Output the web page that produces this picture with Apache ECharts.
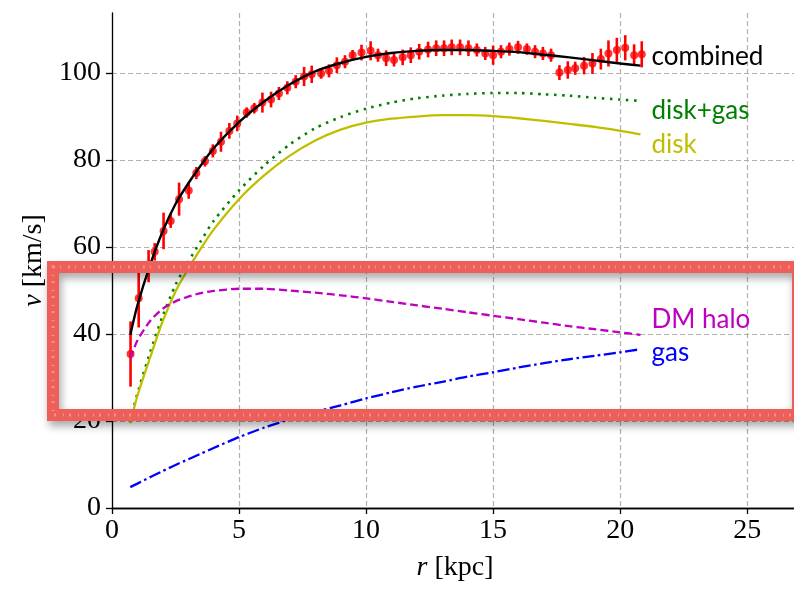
<!DOCTYPE html>
<html lang="en">
  <head>
    <meta charset="UTF-8" />
    <title>rotation curve</title>
    <script src="https://cdn.jsdelivr.net/npm/echarts@6/dist/echarts.min.js"></script>
    <style>
      html, body { margin: 0; padding: 0; background: #fff; }
      #rotationChart { width: 794px; height: 589px; }
    </style>
  </head>
  <body>
    <div id="rotationChart"></div>
    <script>
      // measured points (r in kpc, v in km/s, error in km/s)
      var rData = [0.73, 1.05, 1.44, 1.68, 2.03, 2.31, 2.64, 3.02, 3.32, 3.66, 3.97, 4.29, 4.62, 4.93, 5.30, 5.60,
        5.92, 6.26, 6.57, 6.90, 7.23, 7.56, 7.86, 8.23, 8.54, 8.85, 9.17, 9.47, 9.82, 10.18, 10.47, 10.79,
        11.10, 11.44, 11.76, 12.09, 12.44, 12.76, 13.07, 13.37, 13.70, 14.03, 14.36, 14.69, 15.00, 15.31,
        15.64, 15.98, 16.33, 16.65, 16.96, 17.28, 17.61, 17.94, 18.23, 18.58, 18.91, 19.24, 19.54, 19.87,
        20.20, 20.55, 20.85];
      var vData = [35.4, 48.2, 55.6, 58.9, 63.7, 66.0, 71.0, 73.0, 77.0, 79.7, 82.1, 84.2, 86.7, 88.4, 90.9, 91.9,
        93.2, 93.9, 95.3, 96.6, 98.0, 99.2, 99.7, 99.9, 100.5, 101.8, 102.6, 104.1, 104.7, 105.1, 104.1, 103.4,
        103.0, 103.6, 104.1, 104.9, 105.4, 105.7, 105.7, 105.9, 105.9, 105.7, 105.3, 104.5, 104.1, 104.9,
        105.5, 105.9, 105.5, 104.9, 104.5, 104.1, 100.1, 100.7, 101.1, 101.7, 102.2, 103.2, 104.5, 105.3,
        105.8, 104.1, 104.3];
      var vErr = [7.5, 6.7, 3.7, 2.0, 4.2, 1.6, 3.8, 1.9, 1.4, 1.2, 1.5, 2.3, 1.8, 1.8, 1.2, 1.2,
        2.3, 1.8, 1.5, 1.5, 1.5, 2.2, 2.0, 1.2, 1.5, 1.8, 1.5, 1.2, 1.8, 2.2, 1.5, 1.8,
        1.5, 1.8, 1.8, 1.8, 1.8, 1.8, 1.8, 1.8, 1.8, 1.8, 1.5, 1.5, 2.2, 1.5,
        1.5, 1.5, 1.3, 1.5, 1.5, 1.5, 1.7, 2.0, 1.5, 2.0, 2.4, 2.4, 3.0, 2.8,
        2.9, 2.5, 3.0];

      // model curves
      var rModel = [0.72, 1, 1.5, 2, 2.5, 3, 3.5, 4, 5, 6, 7, 8, 9, 10, 11, 12, 13, 14, 15, 16, 17, 18, 19, 20, 20.8];
      var vCombined = [39.8, 46.6, 55.9, 63.7, 69.9, 74.6, 78.8, 82.7, 88.7, 93.5, 97.4, 100.4, 102.3, 103.7, 104.6,
        105.1, 105.3, 105.3, 105.1, 104.8, 104.2, 103.6, 102.9, 102.2, 101.7];
      var vDiskGas = [20.1, 26.3, 35.8, 44.2, 51.3, 56.6, 61.4, 66.0, 73.0, 78.8, 83.6, 87.3, 89.9, 91.8, 93.2,
        94.2, 94.8, 95.2, 95.4, 95.4, 95.1, 94.8, 94.3, 93.9, 93.6];
      var vDisk = [19.5, 25.8, 34.6, 43.0, 49.8, 55.0, 59.7, 64.0, 71.0, 76.5, 81.0, 84.5, 87.0, 88.6, 89.5,
        90.0, 90.3, 90.3, 90.1, 89.6, 89.0, 88.3, 87.6, 86.7, 85.9];
      var vHalo = [34.4, 38.5, 43.0, 45.8, 47.5, 48.6, 49.4, 49.9, 50.4, 50.4, 50.0, 49.5, 48.9, 48.2, 47.4,
        46.6, 45.8, 45.0, 44.2, 43.4, 42.6, 41.8, 41.1, 40.4, 39.8];
      var vGas = [4.8, 5.6, 7.1, 8.5, 9.9, 11.2, 12.5, 13.8, 16.3, 18.5, 20.4, 22.1, 23.6, 25.2, 26.6,
        27.9, 29.0, 30.2, 31.2, 32.3, 33.3, 34.2, 35.0, 35.8, 36.5];

      var xTicks = [0, 5, 10, 15, 20, 25];
      var yTicks = [0, 20, 40, 60, 80, 100];

      rotationChart();

      function pairs(xs, ys) {
        var out = [];
        for (var i = 0; i < xs.length; i++) out.push([xs[i], ys[i]]);
        return out;
      }

      function curve(name, values, color, dash, width, dy) {
        return {
          name: name,
          type: 'line',
          data: pairs(rModel, values),
          showSymbol: false,
          symbol: 'none',
          smooth: 0.25,
          z: 5,
          lineStyle: { color: color, width: width, type: dash, cap: 'butt' },
          endLabel: {
            show: true,
            formatter: name,
            color: color,
            fontFamily: 'Lato',
            fontSize: 26,
            distance: 11,
            offset: [0, dy]
          }
        };
      }

      function rotationChart() {
        var el = document.getElementById('rotationChart');
        var chart = echarts.init(el, null, { renderer: 'canvas' });

        var serif = 'Liberation Serif';
        var gridLine = { show: true, lineStyle: { color: '#b0b0b0', width: 1.2, type: [5, 3] } };
        var errData = [];
        for (var i = 0; i < rData.length; i++) errData.push([rData[i], vData[i], vErr[i]]);

        var option = {
          animation: false,
          backgroundColor: '#fff',
          grid: { left: 112, top: 13, right: -4, bottom: 81, outerBoundsMode: 'none', containLabel: false },
          xAxis: [
            {
              type: 'value',
              min: 0,
              max: 27,
              interval: 5,
              name: '{i|r} [kpc]',
              nameLocation: 'middle',
              nameGap: 46,
              nameTextStyle: {
                fontFamily: serif, fontSize: 28, color: '#000',
                rich: { i: { fontFamily: serif, fontSize: 28, fontStyle: 'italic', color: '#000' } }
              },
              axisLine: { show: true, onZero: false, lineStyle: { color: '#000', width: 1.3 } },
              axisTick: { show: true, length: 6, lineStyle: { color: '#000', width: 1.3 }, customValues: xTicks },
              axisLabel: { fontFamily: serif, fontSize: 28, color: '#000', margin: 9, customValues: xTicks },
              splitLine: gridLine
            },
            {
              type: 'value',
              position: 'top',
              min: 0,
              max: 27,
              axisLine: { show: true, lineStyle: { color: '#000', width: 1.3 } },
              axisTick: { show: false },
              axisLabel: { show: false },
              splitLine: { show: false }
            }
          ],
          yAxis: {
            type: 'value',
            min: 0,
            max: 113.8,
            interval: 20,
            name: '{i|v} [km/s]',
            nameLocation: 'middle',
            nameRotate: 90,
            nameGap: 60,
            nameTextStyle: {
              fontFamily: serif, fontSize: 28, color: '#000',
              rich: { i: { fontFamily: serif, fontSize: 28, fontStyle: 'italic', color: '#000' } }
            },
            axisLine: { show: true, onZero: false, lineStyle: { color: '#000', width: 1.3 } },
            axisTick: { show: true, length: 6, lineStyle: { color: '#000', width: 1.3 }, customValues: yTicks },
            axisLabel: { fontFamily: serif, fontSize: 28, color: '#000', margin: 11, customValues: yTicks },
            splitLine: gridLine
          },
          series: [
            {
              name: 'errors',
              type: 'custom',
              z: 3,
              data: errData,
              renderItem: function (params, api) {
                var r = api.value(0), v = api.value(1), e = api.value(2);
                var lo = api.coord([r, v - e]);
                var hi = api.coord([r, v + e]);
                return {
                  type: 'line',
                  shape: { x1: lo[0], y1: lo[1], x2: hi[0], y2: hi[1] },
                  style: { stroke: '#ff0000', lineWidth: 2.6 }
                };
              }
            },
            {
              name: 'data',
              type: 'scatter',
              z: 4,
              symbol: 'circle',
              symbolSize: 8,
              itemStyle: { color: '#ff0000' },
              data: pairs(rData, vData)
            },
            curve('combined', vCombined, '#000000', 'solid', 2.4, -9),
            curve('disk+gas', vDiskGas, '#008000', [2.5, 5.5], 2.6, 10),
            curve('disk', vDisk, '#bfbf00', 'solid', 2.3, 10),
            curve('DM halo', vHalo, '#bf00bf', [8, 4], 2.3, -15),
            curve('gas', vGas, '#0000ff', [12, 3.5, 2.5, 3.5], 2.3, 3)
          ],
          graphic: [
            {
              type: 'rect',
              z: 100,
              shape: { x: 53, y: 267, width: 745, height: 148 },
              style: {
                fill: 'none',
                stroke: '#ee5f5a',
                lineWidth: 12,
                shadowBlur: 8,
                shadowOffsetX: 2,
                shadowOffsetY: 5,
                shadowColor: 'rgba(0,0,0,0.35)'
              }
            },
            {
              type: 'rect',
              z: 101,
              shape: { x: 53, y: 267, width: 745, height: 148 },
              style: { fill: 'none', stroke: 'rgba(255,235,235,0.35)', lineWidth: 3, lineDash: [2, 5, 1, 7] }
            }
          ]
        };

        chart.setOption(option);
      }
    </script>
  </body>
</html>
